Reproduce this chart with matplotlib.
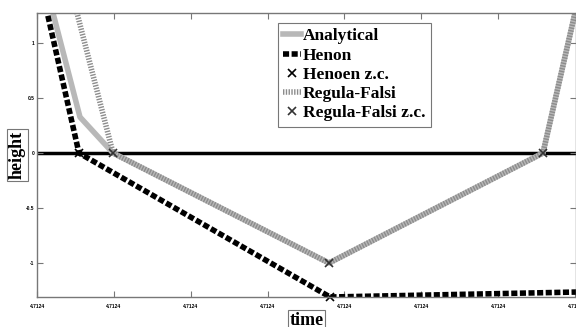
import numpy as np
from matplotlib import pyplot as plt
from matplotlib.ticker import FormatStrFormatter

# time offsets from T0 in microseconds (every tick reads 4.7124)
T0 = 4.712385
tick_us = [0, 1, 2, 3, 4, 5, 6, 7]

analytical_us = [0.124, 0.559, 0.989, 3.799, 6.583, 7.074]
analytical_h = [1.5, 0.327, 0.0, -1.0, 0.0, 1.5]

henon_us = [0.06, 0.546, 3.812, 7.013, 7.3]
henon_h = [1.5, 0.0, -1.309, -1.264, -1.26]

henon_zc_us = [0.546, 3.812]
henon_zc_h = [0.0, -1.309]

rf_us = [0.437, 0.989, 3.799, 6.583, 7.074]
rf_h = [1.5, 0.0, -1.0, 0.0, 1.5]

rf_zc_us = [0.989, 3.799, 6.583]
rf_zc_h = [0.0, -1.0, 0.0]

yticks = [-1, -0.5, 0, 0.5, 1]


def t(us):
    return T0 + np.array(us) * 1e-6


fig = plt.figure(figsize=(5.76, 3.27), dpi=100)
ax = fig.add_axes([37 / 576, 1 - 297 / 327, 539 / 576, 284 / 327])

ax.plot(t(analytical_us), analytical_h, color='#b8b8b8', lw=4, label='Analytical')
ax.plot(t(henon_us), henon_h, color='black', lw=4, dashes=(1.1, 0.45),
        label='Henon')
ax.plot(t(henon_zc_us), henon_zc_h, 'x', color='black', ms=6, mew=1.2,
        label='Henoen z.c.', clip_on=False)
ax.plot(t(rf_us), rf_h, color='#8c8c8c', lw=4, dashes=(0.25, 0.25),
        label='Regula-Falsi')
ax.plot(t(rf_zc_us), rf_zc_h, 'x', color='#333333', ms=6, mew=1.2,
        label='Regula-Falsi z.c.', clip_on=False)
ax.axhline(0, color='black', lw=2.5, zorder=1.5)

ax.set_xlim(t([0])[0], t([539 / 76.86])[0])
ax.set_ylim(-1.309, 1.273)
ax.set_xticks(t(tick_us))
ax.xaxis.set_major_formatter(FormatStrFormatter('%.4f'))
ax.set_yticks(yticks)
ax.set_yticklabels(['-1', '-0.5', '0', '0.5', '1'])

for s in ax.spines.values():
    s.set_color('#777777')
    s.set_linewidth(1)
ax.tick_params(direction='in', length=4.5, width=0.8, color='#777777',
               top=True, right=True, labelsize=3.5, pad=5)
for lab in ax.get_xticklabels() + ax.get_yticklabels():
    lab.set_family('Liberation Sans')
    lab.set_weight('bold')
ax.tick_params(axis='y', pad=2)

box = dict(boxstyle='square,pad=0.1', fc='white', ec='#777777', lw=0.8)
ax.set_xlabel('time', family='Liberation Serif', weight='bold', fontsize=13,
              bbox=box, labelpad=2)
ax.set_ylabel('height', family='Liberation Serif', weight='bold', fontsize=13,
              bbox=box, labelpad=0)

leg = ax.legend(loc='upper left', bbox_to_anchor=(278 / 576, 1 - 23 / 327),
                bbox_transform=fig.transFigure, borderaxespad=0,
                prop={'family': 'Liberation Serif', 'weight': 'bold', 'size': 12.5},
                handlelength=1.0, handletextpad=0.15, labelspacing=0.18,
                borderpad=0.3, fancybox=False, framealpha=1, edgecolor='#777777')
leg.get_frame().set_linewidth(0.8)

fig.savefig('out.png', dpi=100)
